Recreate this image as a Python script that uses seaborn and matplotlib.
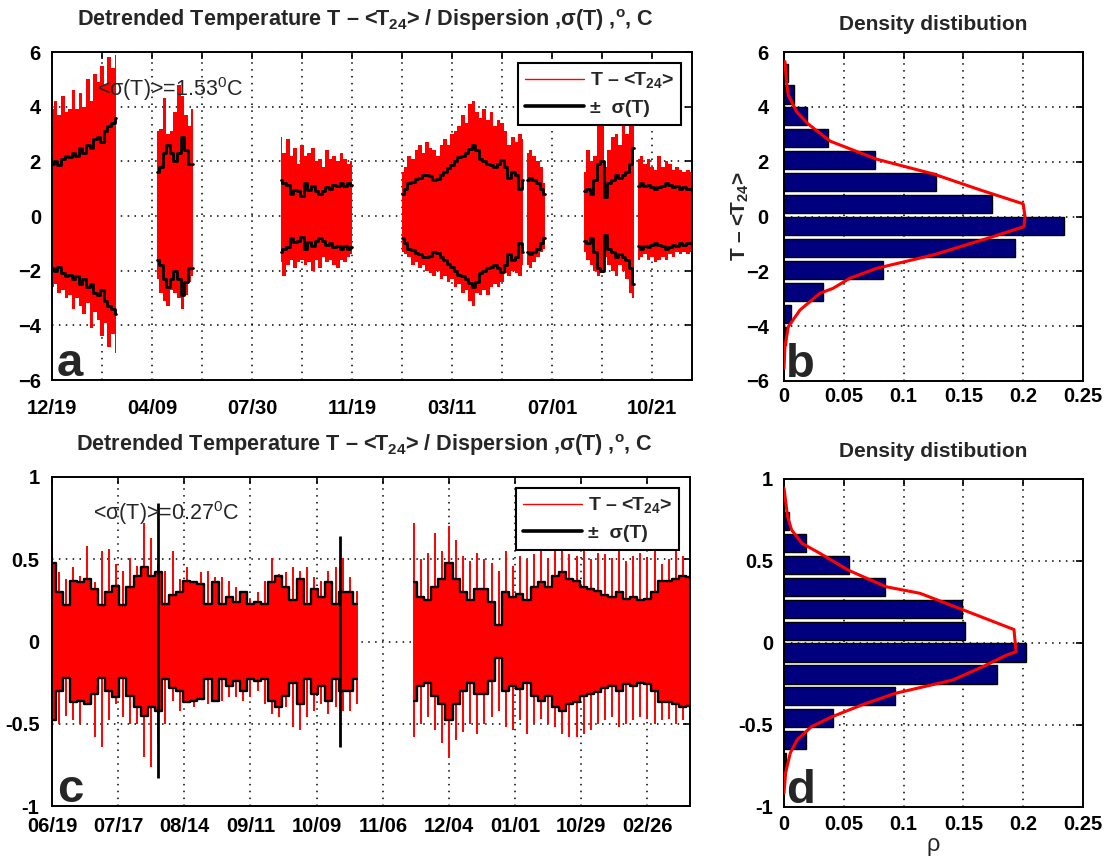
import numpy as np
import matplotlib
matplotlib.use("Agg")
import matplotlib.pyplot as plt
from matplotlib.lines import Line2D
import seaborn as sns

# ---------------- panel a: detrended temperature, first site -----------------
# time axis in days counted from 12/19; samples every 4 days inside each record
a_step = 4
a_seg_start = [0, 118, 256, 392, 532, 596, 656]
a_sigma = [
    [1.9, 2.0, 1.85, 2.1, 2.2, 2.15, 2.3, 2.2, 2.5, 2.3, 2.6, 2.5, 2.8, 2.9, 2.7, 3.1, 3.3, 3.4, 3.6],
    [1.6, 1.8, 2.3, 2.6, 2.3, 2.0, 2.3, 2.9, 2.4, 1.9, 1.9],
    [1.3, 1.2, 1.15, 0.8, 0.95, 0.9, 0.75, 1.2, 0.95, 1.1, 0.9, 0.8, 0.9, 1.05, 1.0, 1.15, 1.1, 1.2, 1.1, 1.2, 1.15],
    [0.8, 1.0, 1.2, 1.25, 1.35, 1.4, 1.5, 1.5, 1.45, 1.3, 1.35, 1.5, 1.6, 1.75, 1.85, 2.0, 2.15, 2.2, 2.3, 2.45,
     2.6, 2.4, 2.1, 2.0, 1.9, 1.85, 1.8, 1.9, 2.05, 1.8, 1.4, 1.6, 1.5, 1.0, 1.3],
    [1.3, 1.4, 1.3, 1.2, 1.0, 0.8],
    [0.9, 1.0, 0.8, 1.3, 1.9, 2.0, 0.7, 1.2, 1.3, 1.5, 1.4, 1.5, 1.6, 1.9, 2.5],
    [1.1, 1.2, 1.1, 1.15, 1.05, 1.0, 1.05, 1.1, 1.2, 1.15, 1.05, 1.1, 1.0, 1.05, 1.0, 1.0],
]
a_hi = [
    [3.9, 4.2, 3.7, 4.4, 3.8, 3.9, 4.6, 3.9, 4.5, 4.0, 5.0, 4.2, 5.2, 4.9, 5.5, 4.8, 5.8, 5.4, 5.9],
    [3.1, 3.2, 4.3, 3.0, 3.1, 3.8, 4.8, 4.4, 3.7, 3.3, 3.9],
    [2.9, 2.3, 2.8, 2.2, 2.5, 1.9, 2.6, 2.2, 2.3, 2.5, 2.0, 2.1, 1.8, 2.4, 2.1, 2.2, 2.0, 2.3, 2.1, 1.9, 2.0],
    [1.6, 1.8, 2.2, 2.1, 2.4, 2.6, 2.3, 2.7, 2.5, 2.4, 2.2, 2.6, 2.8, 2.6, 3.0, 3.1, 3.3, 3.7, 3.4, 4.1,
     4.2, 3.8, 3.6, 3.9, 3.5, 3.8, 3.3, 3.5, 3.4, 3.1, 2.6, 2.9, 2.7, 3.0, 2.8],
    [2.3, 2.4, 2.2, 2.0, 1.8, 1.2],
    [1.6, 2.4, 2.0, 2.2, 3.9, 3.6, 1.8, 2.4, 2.9, 3.0, 2.6, 3.9, 3.0, 3.3, 3.9],
    [2.1, 2.2, 1.9, 2.1, 1.8, 1.7, 2.2, 1.8, 2.0, 1.9, 1.7, 1.8, 1.7, 1.6, 1.7, 1.6],
]
a_lo = [
    [-2.6, -2.5, -2.8, -2.7, -3.0, -2.9, -3.4, -3.0, -3.3, -3.6, -3.2, -4.1, -3.5, -3.8, -4.4, -3.9, -4.8, -4.3, -5.0],
    [-2.3, -2.8, -3.1, -3.3, -2.7, -2.8, -3.0, -3.4, -2.9, -2.4, -2.2],
    [-1.7, -2.2, -1.8, -1.6, -1.9, -1.7, -1.6, -1.8, -1.7, -2.0, -1.6, -1.9, -1.5, -1.7, -1.6, -1.8, -1.9, -1.6, -1.7, -1.5, -1.4],
    [-1.3, -1.4, -1.5, -1.8, -1.7, -1.9, -1.8, -2.0, -2.1, -2.2, -2.0, -2.3, -2.2, -2.4, -2.3, -2.6, -2.5, -2.8, -2.7, -3.1,
     -3.3, -2.8, -2.9, -2.7, -2.9, -2.6, -2.5, -2.6, -2.4, -2.1, -2.2, -2.0, -2.1, -2.2, -1.8],
    [-1.8, -1.9, -1.7, -1.5, -1.3, -1.2],
    [-1.3, -1.6, -1.8, -2.0, -2.2, -2.1, -1.5, -1.8, -2.0, -2.2, -1.8, -2.0, -2.3, -2.8, -3.0],
    [-1.6, -1.5, -1.4, -1.6, -1.5, -1.7, -1.6, -1.5, -1.6, -1.4, -1.5, -1.3, -1.4, -1.3, -1.4, -1.3],
]
a_ticks = [0, 56, 112, 168, 224, 280, 336, 392, 448, 504, 560, 616, 672]
a_ticklabels = ["12/19", "", "04/09", "", "07/30", "", "11/19", "", "03/11", "", "07/01", "", "10/21"]

# ---------------- panel b: density of T - <T24>, first site -----------------
b_bin_center = [5.25, 4.45, 3.65, 2.85, 2.05, 1.25, 0.45, -0.35, -1.15, -1.95, -2.75, -3.55, -4.35]
b_density = [0.003, 0.008, 0.0195, 0.0365, 0.076, 0.127, 0.174, 0.234, 0.193, 0.083, 0.033, 0.006, 0.002]
b_fit_rho = [0.0008, 0.0022, 0.0036, 0.0106, 0.0195, 0.0385, 0.0775, 0.125, 0.164, 0.200, 0.2015,
             0.2007, 0.175, 0.125, 0.0775, 0.0552, 0.041, 0.030, 0.0134, 0.0036, 0.0008, 0.0]
b_fit_t = [5.65, 4.86, 4.43, 3.82, 3.40, 2.75, 2.09, 1.55, 0.97, 0.46, 0.0,
           -0.37, -0.73, -1.40, -1.89, -2.25, -2.62, -2.80, -3.41, -4.02, -4.75, -5.54]

# ---------------- panel c: detrended temperature, second site -----------------
# time axis in days counted from 06/19; samples every 3 days
c_step = 3
c_seg_start = [0, 153]
c_sigma = [
    [0.48, 0.30, 0.22, 0.37, 0.36, 0.38, 0.32, 0.22, 0.30, 0.34, 0.22, 0.33, 0.40, 0.45, 0.40, 0.42, 0.23, 0.28,
     0.30, 0.37, 0.36, 0.35, 0.23, 0.36, 0.23, 0.27, 0.24, 0.30, 0.23, 0.24, 0.23, 0.36, 0.40, 0.33, 0.25, 0.38,
     0.23, 0.32, 0.27, 0.36, 0.23, 0.30, 0.30, 0.23],
    [0.36, 0.27, 0.25, 0.33, 0.38, 0.48, 0.38, 0.30, 0.25, 0.32, 0.32, 0.24, 0.10, 0.30, 0.27, 0.29, 0.25, 0.33,
     0.36, 0.33, 0.40, 0.42, 0.38, 0.37, 0.33, 0.32, 0.31, 0.28, 0.27, 0.30, 0.26, 0.27, 0.25, 0.26, 0.30, 0.37,
     0.37, 0.38, 0.40, 0.39],
]
c_hi = [
    [0.65, 0.42, 0.38, 0.45, 0.40, 0.58, 0.36, 0.55, 0.56, 0.47, 0.43, 0.51, 0.46, 0.72, 0.63, 0.47, 0.43, 0.55,
     0.38, 0.45, 0.37, 0.42, 0.43, 0.39, 0.39, 0.37, 0.33, 0.27, 0.26, 0.30, 0.37, 0.51, 0.41, 0.42, 0.45, 0.43,
     0.45, 0.39, 0.37, 0.43, 0.45, 0.51, 0.39, 0.31],
    [0.72, 0.50, 0.54, 0.66, 0.55, 0.70, 0.62, 0.52, 0.49, 0.54, 0.50, 0.48, 0.43, 0.55, 0.46, 0.52, 0.50, 0.53,
     0.56, 0.51, 0.55, 0.58, 0.53, 0.52, 0.57, 0.50, 0.54, 0.53, 0.51, 0.55, 0.49, 0.52, 0.54, 0.51, 0.55, 0.47,
     0.50, 0.55, 0.52, 0.68],
]
c_lo = [
    [-0.54, -0.50, -0.45, -0.48, -0.50, -0.38, -0.58, -0.64, -0.48, -0.38, -0.46, -0.50, -0.50, -0.70, -0.76, -0.62,
     -0.50, -0.36, -0.42, -0.36, -0.40, -0.34, -0.38, -0.34, -0.36, -0.34, -0.34, -0.36, -0.34, -0.30, -0.38, -0.44,
     -0.46, -0.40, -0.52, -0.54, -0.46, -0.42, -0.38, -0.44, -0.40, -0.42, -0.42, -0.38],
    [-0.58, -0.50, -0.46, -0.54, -0.62, -0.70, -0.60, -0.55, -0.50, -0.56, -0.50, -0.46, -0.42, -0.52, -0.54, -0.48,
     -0.56, -0.50, -0.47, -0.50, -0.52, -0.56, -0.58, -0.58, -0.56, -0.54, -0.50, -0.48, -0.46, -0.52, -0.50, -0.48,
     -0.46, -0.47, -0.50, -0.48, -0.47, -0.50, -0.48, -0.50],
]
# isolated short bursts of the dispersion
c_burst_day = [45, 122]
c_burst_hi = [0.84, 0.64]
c_burst_lo = [-0.83, -0.64]
c_ticks = [0, 28, 56, 84, 112, 140, 168, 196, 224, 252]
c_ticklabels = ["06/19", "07/17", "08/14", "09/11", "10/09", "11/06", "12/04", "01/01", "10/29", "02/26"]

# ---------------- panel d: density of T - <T24>, second site -----------------
d_bin_center = [0.746, 0.612, 0.478, 0.344, 0.21, 0.076, -0.058, -0.192, -0.326, -0.46, -0.594, -0.728]
d_density = [0.004, 0.018, 0.0546, 0.0845, 0.149, 0.151, 0.2025, 0.178, 0.093, 0.041, 0.018, 0.002]
d_fit_rho = [0.0, 0.003, 0.0064, 0.015, 0.030, 0.0535, 0.0853, 0.1137, 0.1505, 0.1923, 0.194,
             0.186, 0.166, 0.141, 0.093, 0.065, 0.040, 0.023, 0.011, 0.0053, 0.0014, 0.0]
d_fit_t = [0.945, 0.77, 0.689, 0.608, 0.547, 0.445, 0.343, 0.303, 0.2, 0.082, -0.054,
           -0.074, -0.145, -0.226, -0.307, -0.378, -0.45, -0.51, -0.59, -0.67, -0.79, -0.915]

TITLE_TS = "Detrended Temperature T – <T$_{24}$> / Dispersion ,σ(T) ,$^{o}$, C"
TITLE_HIST = "Density distibution"
LEG_LABELS = ["T – <T$_{24}$>", "±  σ(T)"]

# ---------------- style -----------------
sns.set_theme(style="white")
plt.rcParams["font.family"] = ["Liberation Sans", "DejaVu Sans"]
plt.rcParams["font.weight"] = "bold"
plt.rcParams["axes.titleweight"] = "bold"
plt.rcParams["axes.labelweight"] = "bold"
plt.rcParams["mathtext.fontset"] = "custom"
plt.rcParams["mathtext.rm"] = "Liberation Sans:bold"
plt.rcParams["mathtext.it"] = "Liberation Sans:bold"
plt.rcParams["mathtext.bf"] = "Liberation Sans:bold"
plt.rcParams["axes.edgecolor"] = "black"
plt.rcParams["axes.linewidth"] = 1.4

W, H = 1105, 856
fig = plt.figure(figsize=(W / 100, H / 100), dpi=100)


def box(l, t, r, b):
    return [l / W, 1 - b / H, (r - l) / W, (b - t) / H]


ax_a = fig.add_axes(box(52, 52, 692, 380))
ax_b = fig.add_axes(box(784, 52, 1083, 381))
ax_c = fig.add_axes(box(52, 477, 690, 806))
ax_d = fig.add_axes(box(784, 479, 1083, 807))

GRID = dict(color="black", linestyle=(0, (1, 3.5)), linewidth=1.1)
TICKSIZE = 14.5


def frame(ax, xpad, ypad):
    ax.grid(True, **GRID)
    ax.set_axisbelow(True)
    ax.tick_params(direction="in", length=5, width=1.2, top=True, right=True,
                   labelsize=TICKSIZE, colors="black")
    ax.tick_params(axis="x", pad=xpad)
    ax.tick_params(axis="y", pad=ypad)
    for s in ax.spines.values():
        s.set_visible(True)
        s.set_color("black")
        s.set_linewidth(1.4)


def series(ax, starts, step, sig, hi, lo, thin_spikes, lw):
    for s0, sg, h, l in zip(starts, sig, hi, lo):
        t = s0 + step * np.arange(len(sg))
        sg = np.asarray(sg)
        if thin_spikes:
            ax.fill_between(t, -sg, sg, step="mid", color="red", lw=0, zorder=2)
            ax.vlines(t, l, h, color="red", lw=1.4, zorder=2)
        else:
            ax.fill_between(t, l, h, step="mid", color="red", lw=0, zorder=2)
        for sign in (1, -1):
            sns.lineplot(x=t, y=sign * sg, ax=ax, color="black", lw=lw,
                         drawstyle="steps-mid", estimator=None, sort=False, zorder=3)


def legend(ax):
    handles = [Line2D([], [], color="red", lw=1.0), Line2D([], [], color="black", lw=2.6)]
    leg = ax.legend(handles, LEG_LABELS, loc="upper right", frameon=True, fancybox=False,
                    framealpha=1, edgecolor="black", prop={"weight": "bold", "size": 14},
                    handlelength=3.0, handletextpad=0.3, borderaxespad=0.55,
                    borderpad=0.4, labelspacing=0.45)
    leg.get_frame().set_linewidth(1.5)
    leg.set_zorder(10)


def letter(ax, s):
    ax.text(0.008, 0.012, s, transform=ax.transAxes, fontsize=34, weight="bold",
            va="baseline", ha="left", zorder=11)


# ---- a
series(ax_a, a_seg_start, a_step, a_sigma, a_hi, a_lo, thin_spikes=False, lw=2.0)
ax_a.set_xlim(0, 716.8)
ax_a.set_ylim(-6, 6)
ax_a.set_xticks(a_ticks)
ax_a.set_xticklabels(a_ticklabels)
ax_a.set_yticks([-6, -4, -2, 0, 2, 4, 6])
frame(ax_a, 14, 8)
legend(ax_a)
ax_a.set_title(TITLE_TS, fontsize=15.6, pad=19, x=0.49)
ax_a.text(50, 4.65, r"<σ(T)>=1.53$^\mathregular{0}$C", fontsize=15.5, weight="normal",
          va="center", zorder=9)
letter(ax_a, "a")

# ---- c
series(ax_c, c_seg_start, c_step, c_sigma, c_hi, c_lo, thin_spikes=True, lw=1.7)
ax_c.vlines(c_burst_day, c_burst_lo, c_burst_hi, color="black", lw=2.0, zorder=4)
ax_c.set_xlim(0, 270)
ax_c.set_ylim(-1, 1)
ax_c.set_xticks(c_ticks)
ax_c.set_xticklabels(c_ticklabels)
ax_c.set_yticks([-1, -0.5, 0, 0.5, 1])
ax_c.set_yticklabels(["-1", "-0.5", "0", "0.5", "1"])
frame(ax_c, 8, 9)
legend(ax_c)
ax_c.set_title(TITLE_TS, fontsize=15.6, pad=19, x=0.49)
ax_c.text(17.4, 0.78, r"<σ(T)>=0.27$^\mathregular{0}$C", fontsize=15.5, weight="normal",
          va="center", zorder=9)
letter(ax_c, "c")


# ---- histograms
def hist(ax, centers, dens, height, fit_rho, fit_t):
    ax.barh(centers, dens, height=height, left=0, color="#00007F", edgecolor="black",
            linewidth=1.0, zorder=2)
    sns.lineplot(x=fit_rho, y=fit_t, ax=ax, color="red", lw=2.2, sort=False,
                 estimator=None, zorder=3)


hist(ax_b, b_bin_center, b_density, 0.66, b_fit_rho, b_fit_t)
ax_b.set_xlim(0, 0.25)
ax_b.set_ylim(-6, 6)
ax_b.set_xticks([0, 0.05, 0.1, 0.15, 0.2, 0.25])
ax_b.set_xticklabels(["0", "0.05", "0.1", "0.15", "0.2", "0.25"])
ax_b.set_yticks([-6, -4, -2, 0, 2, 4, 6])
frame(ax_b, 4, 11)
ax_b.set_title(TITLE_HIST, fontsize=15, pad=16)
ax_b.set_ylabel("T – <T$_{24}$>", fontsize=15, labelpad=-4)
letter(ax_b, "b")

hist(ax_d, d_bin_center, d_density, 0.11, d_fit_rho, d_fit_t)
ax_d.set_xlim(0, 0.25)
ax_d.set_ylim(-1, 1)
ax_d.set_xticks([0, 0.05, 0.1, 0.15, 0.2, 0.25])
ax_d.set_xticklabels(["0", "0.05", "0.1", "0.15", "0.2", "0.25"])
ax_d.set_yticks([-1, -0.5, 0, 0.5, 1])
ax_d.set_yticklabels(["-1", "-0.5", "0", "0.5", "1"])
frame(ax_d, 6, 8)
ax_d.set_title(TITLE_HIST, fontsize=15, pad=16)
ax_d.set_xlabel("ρ", fontsize=17, weight="normal", labelpad=0)
letter(ax_d, "d")

fig.savefig("out.png", dpi=100, facecolor="white")
